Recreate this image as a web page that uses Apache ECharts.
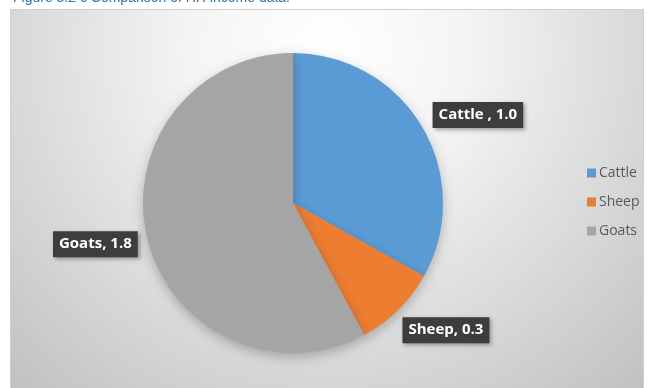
<!DOCTYPE html>
<html>
<head>
<meta charset="utf-8">
<script src="https://cdn.jsdelivr.net/npm/echarts@6/dist/echarts.min.js"></script>
<style>
  html, body { margin: 0; padding: 0; background: #fff; }
  #chart { width: 650px; height: 388px; }
</style>
</head>
<body>
<div id="chart"></div>
<script>
// HH income by livestock type
var categories = ['Cattle ', 'Sheep', 'Goats'];
var values = [1.03, 0.28, 1.8];
var colors = ['#5b9bd5', '#ed7d31', '#a5a5a5'];
var titleText = 'Figure 3.2 c Comparison of HH income data.';

var myChart = echarts.init(document.getElementById('chart'));

var pieData = categories.map(function (name, i) {
  return { name: name, value: values[i], itemStyle: { color: colors[i] } };
});

// nudge the callouts like in the original
var labelShift = [[0, -9], [-5, 16], [1, 3]];

var option = {
  animation: false,
  graphic: [
    {
      type: 'rect',
      z: -10,
      shape: { x: 10.5, y: 9.5, width: 633, height: 390 },
      style: {
        stroke: '#d0d0d0',
        lineWidth: 1,
        fill: {
          type: 'radial', x: 0.5, y: 0.1, r: 1.2,
          colorStops: [
            { offset: 0, color: '#ffffff' },
            { offset: 0.3, color: '#f4f4f4' },
            { offset: 1, color: '#c0c0c0' }
          ]
        }
      }
    },
    {
      type: 'text',
      left: 13,
      top: -9,
      z: -20,
      style: {
        text: titleText,
        fill: '#2e74b5',
        font: '14px "Liberation Sans", Arial, sans-serif'
      }
    }
  ],
  legend: {
    orient: 'vertical',
    left: 582,
    top: 161,
    itemWidth: 9,
    itemHeight: 9,
    itemGap: 15,
    icon: 'rect',
    data: categories,
    textStyle: { color: '#595959', fontSize: 14, fontFamily: 'Open Sans, sans-serif', padding: [0, 0, 0, -2] }
  },
  series: [
    {
      type: 'pie',
      center: [293, 203],
      radius: 150,
      startAngle: 90,
      clockwise: true,
      data: pieData,
      itemStyle: {
        borderWidth: 0,
        shadowBlur: 12,
        shadowOffsetY: 4,
        shadowColor: 'rgba(0,0,0,0.25)'
      },
      label: {
        show: true,
        position: 'outside',
        formatter: function (p) { return p.name + ', ' + p.value.toFixed(1); },
        color: '#ffffff',
        fontWeight: 'bold',
        fontSize: 15,
        fontFamily: 'Open Sans, sans-serif',
        backgroundColor: '#3d3d3d',
        padding: [6, 6, 5, 6],
        shadowBlur: 4,
        shadowOffsetX: 2,
        shadowOffsetY: 2,
        shadowColor: 'rgba(0,0,0,0.35)'
      },
      labelLine: { show: false, length: 6, length2: 0 },
      labelLayout: function (params) {
        var s = labelShift[params.dataIndex];
        return { dx: s[0], dy: s[1] };
      },
      emphasis: { disabled: true }
    }
  ]
};

myChart.setOption(option);
</script>
</body>
</html>
